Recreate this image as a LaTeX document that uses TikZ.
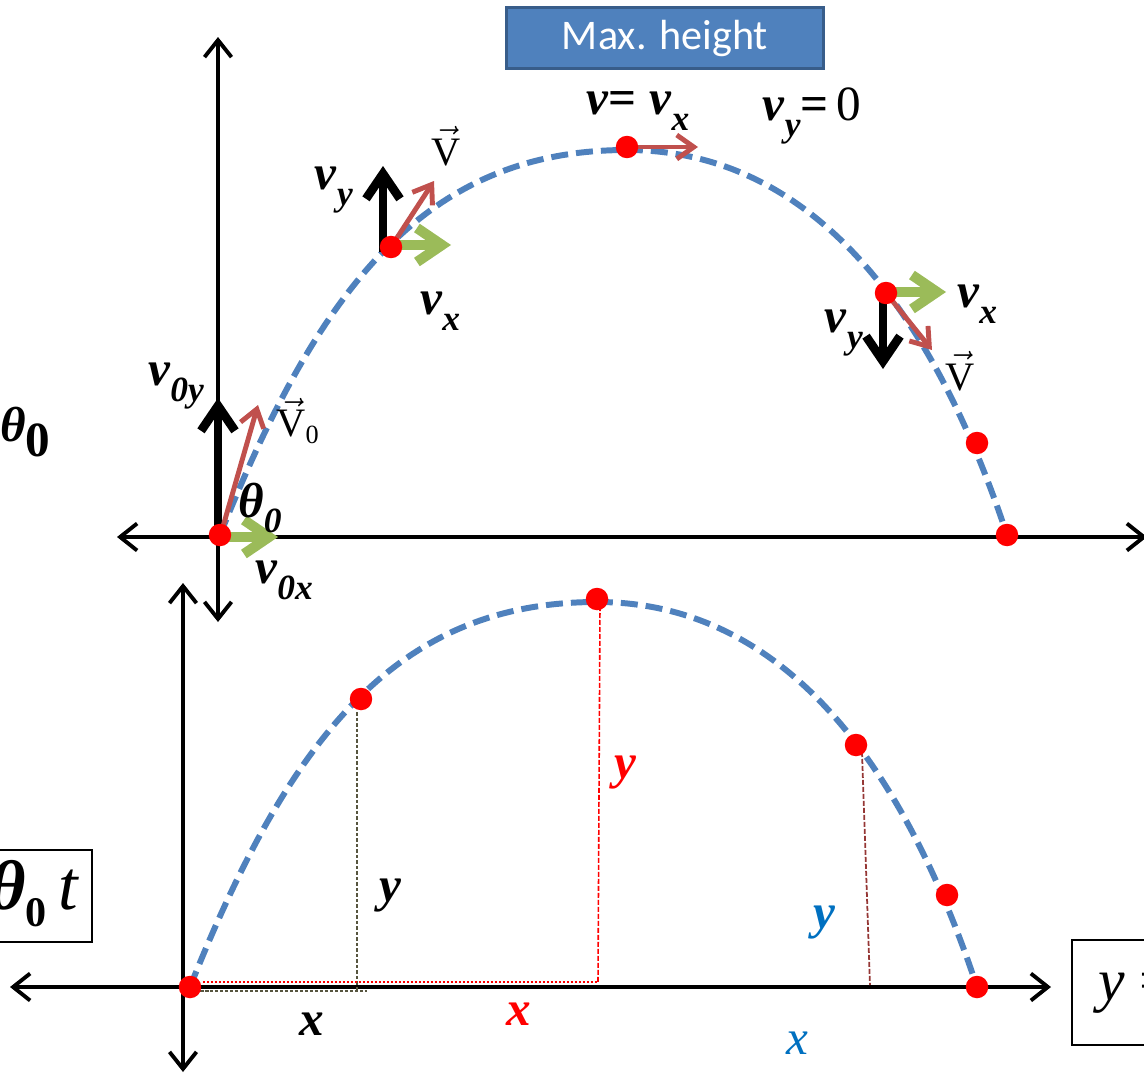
\documentclass[tikz,border=0pt]{standalone}
\usepackage{graphicx}
\usepackage{fontspec}
\setmainfont{Liberation Serif}
\newfontfamily\boxfont{Carlito}
\usetikzlibrary{arrows.meta}
\definecolor{curveblue}{HTML}{4F81BD}
\definecolor{boxborder}{HTML}{385D8A}
\definecolor{vred}{HTML}{C0504D}
\definecolor{vgreen}{HTML}{9BBB59}
\definecolor{olive}{HTML}{57553F}
\definecolor{darkred}{HTML}{953735}
\definecolor{lblue}{HTML}{0070C0}
\newcommand{\bv}[2]{\textbf{\textit{#1}}\raisebox{-0.32em}{\scalebox{0.72}{\textbf{\textit{#2}}}}}
\newcommand{\vecV}{$\vec{\mbox{V}}$}
\begin{document}
\begin{tikzpicture}[x=0.02cm,y=-0.02cm,
  axis/.style={line width=2.2pt,{Straight Barb[length=3.4mm,width=5.4mm]}-{Straight Barb[length=3.4mm,width=5.4mm]}},
  blackvec/.style={line width=5pt,-{Straight Barb[length=5mm,width=6.8mm]}},
  greenvec/.style={draw=vgreen,line width=5.8pt,-{Straight Barb[length=5mm,width=6.8mm]}},
  redvec/.style={draw=vred,line width=2.8pt,-{Straight Barb[length=3.4mm,width=4.8mm]}},
  traj/.style={draw=curveblue,line width=3.4pt,dash pattern=on 0.34cm off 0.16cm},
  dot/.style={circle,fill=red,inner sep=0pt,minimum size=0.45cm},
  lab/.style={inner sep=0pt,font=\fontsize{28}{30}\selectfont},
  vlab/.style={inner sep=0pt,font=\fontsize{23}{25}\selectfont}]
\useasboundingbox (0,0) rectangle (1144,1075);

% ---------- top diagram ----------
\coordinate (tya) at (218,622); \coordinate (tyb) at (218,37);
\coordinate (txa) at (117,537); \coordinate (txb) at (1147,537);
\draw[axis] (tya) -- (tyb);
\draw[axis] (txa) -- (txb);

\draw[traj] (220,535) .. controls (320,285) and (427,150) .. (627,150)
            .. controls (797,150) and (924,285) .. (1007,535);

% max height box
\node[draw=boxborder,line width=1.5pt,fill=curveblue,minimum width=6.34cm,minimum height=1.22cm,
      text=white,font=\boxfont\fontsize{24}{26}\selectfont] (mh) at (665,38) {Max. height};

% launch vectors
\coordinate (l0) at (218,535);
\coordinate (l0y) at (218,398);
\coordinate (l0r) at (258,405);
\coordinate (l0x) at (278,537);
\draw[blackvec] (l0) -- (l0y);
\draw[redvec] (222,530) -- (l0r);
\draw[greenvec] (224,537) -- (l0x);

% second point vectors
\coordinate (p2) at (391,247);
\draw[blackvec] (383,252) -- (383,166);
\draw[redvec] (p2) -- (434,181);
\draw[greenvec] (395,245) -- (451,245);

% peak vector
\coordinate (p3) at (627,147);
\draw[redvec] (p3) -- (698,147);

% descending point vectors
\coordinate (p4) at (886,293);
\draw[greenvec] (890,292) -- (946,292);
\draw[blackvec] (883,296) -- (883,369);
\draw[redvec] (p4) -- (932,350);

% top dots
\node[dot] (d1) at (220,535) {};
\node[dot] (d2) at (p2) {};
\node[dot] (d3) at (p3) {};
\node[dot] (d4) at (p4) {};
\node[dot] (d5) at (977,443) {};
\node[dot] (d6) at (1007,535) {};

% top labels
\node[lab,anchor=west] (th) at (0,432) {\textbf{\textit{θ}}\raisebox{-0.3em}{\textbf{0}}};
\node[lab] (v0y) at (176,386) {\bv{v}{0y}};
\node[lab] (t0) at (260,508) {\textbf{\textit{θ}}\raisebox{-0.3em}{\scalebox{0.72}{\textbf{\textit{0}}}}};
\node[vlab] (V0) at (298,421) {$\vec{\mbox{V}}_{\scalebox{0.65}{0}}$};
\node[lab] (v0x) at (284,580) {\bv{v}{0x}};
\node[lab] (vy1) at (334,190) {\bv{v}{y}};
\node[vlab] (V1) at (446,146) {\vecV};
\node[lab] (vx1) at (440,311) {\bv{v}{x}};
\node[lab] (vvx) at (638,111) {\textbf{\textit{v}}\textbf{=} \bv{v}{x}};
\node[lab] (vy0) at (812,116) {\bv{v}{y}\textbf{=}\,0};
\node[lab] (vx2) at (977,304) {\bv{v}{x}};
\node[lab] (vy2) at (844,333) {\bv{v}{y}};
\node[vlab] (V2) at (960,371) {\vecV};

% ---------- bottom diagram ----------
\coordinate (bya) at (183,1072); \coordinate (byb) at (183,583);
\coordinate (bxa) at (10,987); \coordinate (bxb) at (1051,987);
\draw[axis] (bya) -- (byb);
\draw[axis] (bxa) -- (bxb);

% helper lines
\draw[olive,line width=0.9pt,dash pattern=on 0.07cm off 0.04cm] (357,712) -- (357,990);
\draw[olive,line width=1.6pt,dash pattern=on 0.07cm off 0.03cm] (200,991) -- (367,991);
\draw[red,line width=1.1pt,dash pattern=on 0.04cm off 0.04cm] (203,982) -- (598,982);
\draw[red,line width=0.9pt,dash pattern=on 0.1cm off 0.04cm] (600,606) -- (598,982);
\draw[darkred,line width=1pt,dash pattern=on 0.1cm off 0.04cm] (862,752) -- (870,985);

\begin{scope}[shift={(-30,452)}]
\draw[traj] (220,535) .. controls (320,285) and (427,150) .. (627,150)
            .. controls (797,150) and (924,285) .. (1007,535);
\end{scope}

\node[dot] (e1) at (190,987) {};
\node[dot] (e2) at (361,699) {};
\node[dot] (e3) at (597,599) {};
\node[dot] (e4) at (856,745) {};
\node[dot] (e5) at (947,895) {};
\node[dot] (e6) at (977,987) {};

% bottom labels
\node[lab] (yb) at (390,896) {\textbf{\textit{y}}};
\node[lab,text=red] (yr) at (625,773) {\textbf{\textit{y}}};
\node[lab,text=lblue] (yl) at (824,923) {\textbf{\textit{y}}};
\node[lab] (xb) at (312,1024) {\textbf{\textit{x}}};
\node[lab,text=red] (xr) at (519,1014) {\textbf{\textit{x}}};
\node[lab,text=lblue] (xl) at (797,1043) {\textit{x}};

% side boxes
\draw[line width=0.9pt] (-5,850) rectangle (92,942);
\node[inner sep=0pt,anchor=base east,font=\fontsize{40}{44}\selectfont] (bt) at (80,909)
  {\textbf{\textit{θ}}\raisebox{-0.25em}{\scalebox{0.6}{\textbf{0}}}\,\textit{t}};
\draw[line width=0.9pt] (1072,940) rectangle (1150,1045);
\node[inner sep=0pt,anchor=base west,font=\fontsize{34}{38}\selectfont] (ry) at (1098,1000)
  {\textit{y} =};
\end{tikzpicture}
\end{document}
